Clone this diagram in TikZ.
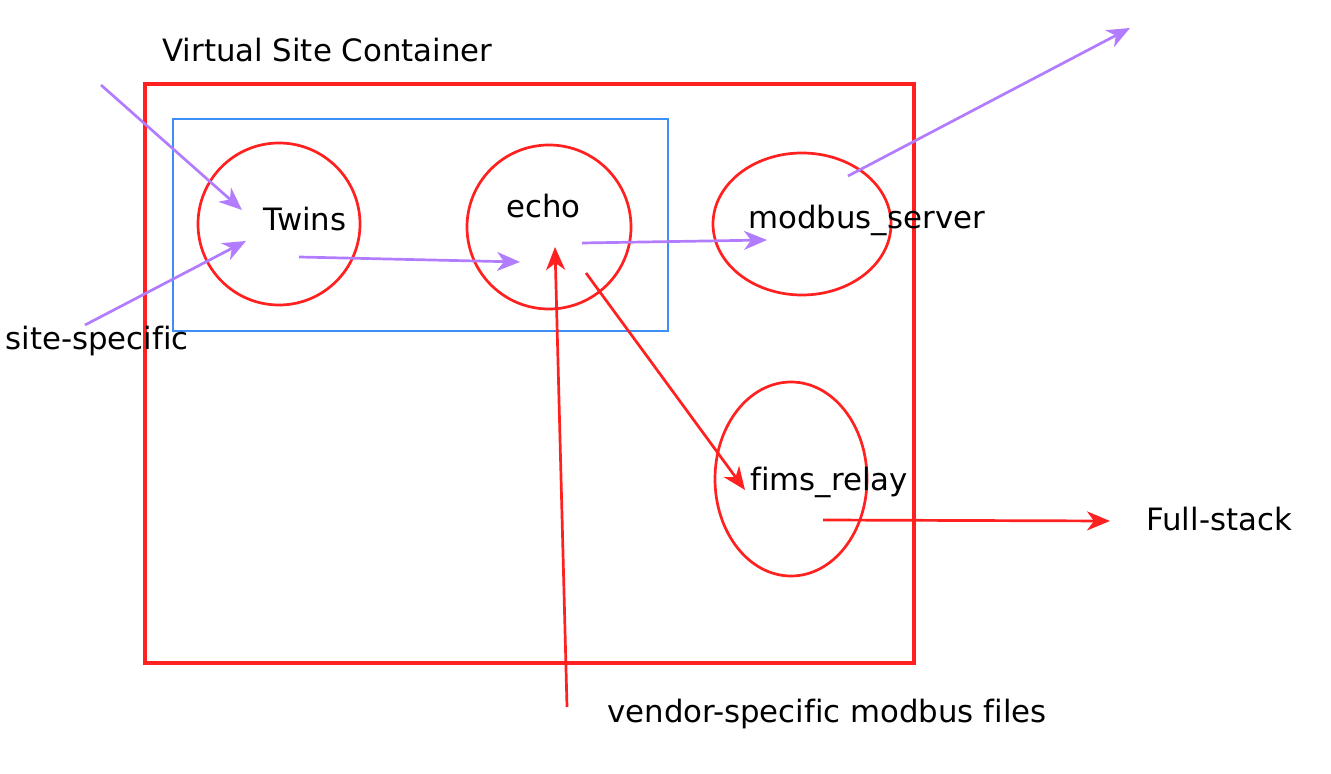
\documentclass[tikz,border=0pt]{standalone}
\usepackage{fontspec}
\setmainfont[Ligatures=NoCommon]{DejaVu Sans}
\usetikzlibrary{arrows.meta}
\usetikzlibrary{shapes.geometric}

\definecolor{siteRed}{HTML}{FF2020}
\definecolor{twinBlue}{HTML}{3D8EF5}
\definecolor{flowPurple}{HTML}{B27CFF}

\begin{document}
\begin{tikzpicture}[
    x=0.5pt, y=-0.5pt,
    >={Stealth[length=11.5pt,width=9.5pt,inset=3.5pt]},
    every node/.style={font=\fontsize{15.4}{18}\selectfont},
    proc/.style={ellipse, draw=siteRed, line width=1.35pt, inner sep=0pt},
    lbl/.style={anchor=base west, inner sep=0pt},
    flow/.style={->, draw=flowPurple, line width=1.35pt},
    feed/.style={->, draw=siteRed, line width=1.35pt}
]

\useasboundingbox (0,0) rectangle (1331,774);

% Containers
\node[draw=siteRed, line width=1.6pt, minimum width=384.5pt, minimum height=289.5pt] (site) at (529.5,373.5) {};
\node[draw=twinBlue, line width=1.45pt, minimum width=247.5pt, minimum height=106pt] (twinbox) at (420.5,225) {};
\node[lbl] (sitelbl) at (162,62) {Virtual Site Container};

% Processes
\node[proc, minimum width=81pt, minimum height=81pt] (twins) at (279,224) {};
\node[proc, minimum width=82pt, minimum height=82pt] (echo) at (549,227) {};
\node[proc, minimum width=89pt, minimum height=71pt] (modbus) at (802,224) {};
\node[proc, minimum width=76pt, minimum height=97pt] (relay) at (791,479) {};

\node[lbl] at (263,231) {Twins};
\node[lbl] at (506,218) {echo};
\node[lbl] at (748,229) {modbus\_server};
\node[lbl] at (750,490) {fims\_relay};

% Outside
\node[lbl] (specific) at (5,350) {site-specific};
\node[lbl] (fullstack) at (1146,530) {Full-stack};
\node[lbl] (vendor) at (607,722) {vendor-specific modbus files};

% Arrow ends
\coordinate (topIn) at (101,85);
\coordinate (twinsA) at (242,210);
\coordinate (specOut) at (85,325);
\coordinate (twinsB) at (246,241);
\coordinate (twinsOut) at (299,257);
\coordinate (echoA) at (520,262);
\coordinate (echoOut) at (582,243);
\coordinate (modbusIn) at (767,240);
\coordinate (modbusOut) at (848,176);
\coordinate (topOut) at (1130,28);
\coordinate (vendorOut) at (567,707);
\coordinate (echoB) at (555,247);
\coordinate (echoDown) at (586,273);
\coordinate (relayIn) at (745,490);
\coordinate (relayOut) at (823,520);
\coordinate (stackIn) at (1110,521);

\draw[flow] (topIn) -- (twinsA);
\draw[flow] (specOut) -- (twinsB);
\draw[flow] (twinsOut) -- (echoA);
\draw[flow] (echoOut) -- (modbusIn);
\draw[flow] (modbusOut) -- (topOut);

\draw[feed] (vendorOut) -- (echoB);
\draw[feed] (echoDown) -- (relayIn);
\draw[feed] (relayOut) -- (stackIn);

\end{tikzpicture}
\end{document}
